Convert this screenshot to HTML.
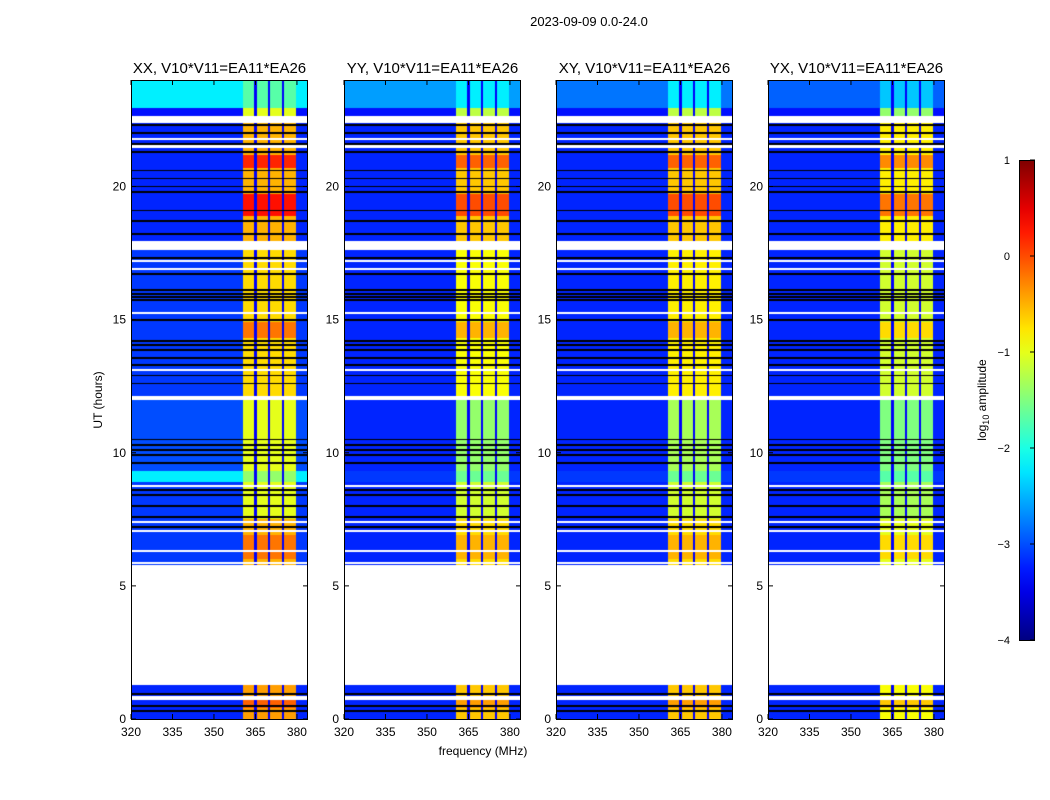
<!DOCTYPE html>
<html><head><meta charset="utf-8">
<style>
html,body{margin:0;padding:0;background:#fff;}
#wrap{position:relative;width:1050px;height:800px;overflow:hidden;font-family:"Liberation Sans","DejaVu Sans",sans-serif;}
canvas{position:absolute;}
svg{position:absolute;left:0;top:0;}
</style></head>
<body>
<div id="wrap">
<svg id="ov" width="1050" height="800"></svg>
</div>
<script>
// ---- data ----
const panelTitles = ["XX, V10*V11=EA11*EA26","YY, V10*V11=EA11*EA26","XY, V10*V11=EA11*EA26","YX, V10*V11=EA11*EA26"];
const panelLeft = [131,344,556,768];
const xTicks = [320,335,350,365,380];
const yTicks = [0,5,10,15,20];
const cbTicks = [1,0,-1,-2,-3,-4];
// time segments (hours)
const segStart = [0.0, 5.8, 7.5, 8.9, 9.3, 12.15, 17.95, 22.65, 22.95];
const segEnd   = [1.35,7.5, 8.9, 9.3, 12.0,17.6, 22.4, 22.95, 24.0];
// background level per panel per segment (log10)
const bgXX = [-3.2,-3.1,-3.1,-2.2,-3.0,-3.1,-3.2,-3.3,-2.2];
const bgYY = [-3.2,-3.2,-3.2,-3.1,-3.2,-3.2,-3.2,-3.3,-2.6];
const bgXY = [-3.2,-3.2,-3.2,-3.1,-3.2,-3.2,-3.2,-3.3,-2.8];
const bgYX = [-3.2,-3.2,-3.2,-3.1,-3.2,-3.2,-3.2,-3.3,-2.9];
// band (360-380 MHz) level per panel per segment
const bandXX = [-0.4,-0.5,-1.0,-1.4,-1.0,-0.7,-0.5,-1.0,-1.7];
const bandYY = [-0.6,-0.7,-1.1,-1.6,-1.4,-0.9,-0.6,-1.2,-2.2];
const bandXY = [-0.6,-0.7,-1.1,-1.6,-1.3,-0.8,-0.6,-1.2,-2.2];
const bandYX = [-0.9,-1.0,-1.3,-1.7,-1.5,-1.1,-0.8,-1.4,-2.4];
// strong rows in band
const hotStart = [20.7, 18.9, 14.3, 6.0, 0.4];
const hotEnd   = [21.2, 19.7, 14.9, 6.9, 0.8];
const hotLevel = [0.2, 0.3, -0.2, -0.2, -0.1];
// flagged rows
const blackRows = [22.3,22.0,21.6,21.3,20.6,20.3,20.0,19.8,19.1,18.7,18.2,17.3,16.7,16.1,15.95,15.85,15.75,15.0,14.2,14.05,13.85,13.55,13.3,12.9,12.6,10.5,10.3,10.1,9.9,9.6,8.6,8.4,8.0,7.6,7.2,0.95,0.5,0.3];
const whiteRows = [21.8,21.5,17.2,16.9,15.25,13.1,8.75,7.4,7.05,6.3,5.85,1.3,0.82,0.76];
const bandLines = [365,370,375];
const bandLo = 360.5, bandHi = 379.5;

// ---- scales ----
const pW = 177, y0 = 719, pxPerHour = 26.625;
const fMin = 320, fMax = 384;
function xs(f, L){ return L + (f - fMin) / (fMax - fMin) * pW; }
function ys(h){ return y0 - h * pxPerHour; }
function cbY(v){ return 640 - (v + 4) * 96; }

function jet(v){ // v in [-4,1]
  let t = Math.max(0, Math.min(1, (v + 4) / 5));
  const r = Math.max(0, Math.min(1, 1.5 - Math.abs(4*t - 3)));
  const g = Math.max(0, Math.min(1, 1.5 - Math.abs(4*t - 2)));
  const b = Math.max(0, Math.min(1, 1.5 - Math.abs(4*t - 1)));
  return [Math.round(r*255), Math.round(g*255), Math.round(b*255)];
}

const wrap = document.getElementById('wrap');
const ov = document.getElementById('ov');
const NS = 'http://www.w3.org/2000/svg';
function sv(tag, attrs, text){ const e = document.createElementNS(NS, tag); for (const k in attrs) e.setAttribute(k, attrs[k]); if (text !== undefined) e.textContent = text; ov.appendChild(e); return e; }

const bgs = [bgXX,bgYY,bgXY,bgYX];
const bands = [bandXX,bandYY,bandXY,bandYX];
const plotTop = Math.round(ys(24));
const H = y0 - plotTop;

panelLeft.forEach((L, p) => {
  const cv = document.createElement('canvas');
  
  
  cv.width = pW; cv.height = H;
  cv.style.left = L + 'px'; cv.style.top = plotTop + 'px';
  wrap.insertBefore(cv, ov);
  const ctx = cv.getContext('2d');
  const img = ctx.createImageData(pW, H);
  for (let r = 0; r < H; r++) {
    const h = (y0 - (plotTop + r + 0.5)) / pxPerHour;
    let si = -1;
    for (let i = 0; i < segStart.length; i++) if (h >= segStart[i] && h < segEnd[i]) si = i;
    let black = blackRows.some(b => Math.abs(h - b) < 0.035);
    let white = whiteRows.some(w => Math.abs(h - w) < 0.04);
    let hot = null;
    for (let i = 0; i < hotStart.length; i++) if (h >= hotStart[i] && h < hotEnd[i]) hot = hotLevel[i];
    for (let c = 0; c < pW; c++) {
      const f = fMin + (c + 0.5) / pW * (fMax - fMin);
      let col;
      if (si < 0 || white) col = [255,255,255];
      else if (black) col = [0,0,0];
      else {
        let v = bgs[p][si];
        if (f >= bandLo && f <= bandHi) {
          v = bands[p][si];
          if (hot !== null) v = Math.max(v, hot - (p === 3 ? 0.5 : p > 0 ? 0.3 : 0));
          if (bandLines.some(b => Math.abs(f - b) < 0.4)) v = -3.4;
        }
        col = jet(v);
      }
      const k = (r * pW + c) * 4;
      img.data[k] = col[0]; img.data[k+1] = col[1]; img.data[k+2] = col[2]; img.data[k+3] = 255;
    }
  }
  ctx.putImageData(img, 0, 0);

  const fr = sv('rect', {x: L+0.5, y: plotTop+0.5, width: pW-1, height: H, fill: 'none', stroke: '#000', 'stroke-width': 1});
  
  
  const ttl = sv('text', {x: L + pW/2, y: 73, 'text-anchor': 'middle', 'font-size': 15}, panelTitles[p]);
  
  
  xTicks.forEach(v => {
    const x = xs(v, L);
    sv('line', {x1: x, x2: x, y1: y0, y2: y0-5, stroke: '#000'});
    sv('line', {x1: x, x2: x, y1: plotTop, y2: plotTop+5, stroke: '#000'});
    const tl = sv('text', {x: x, y: 736, 'text-anchor': 'middle', 'font-size': 12}, String(v));
    
    
  });
  yTicks.forEach(v => {
    const y = ys(v);
    sv('line', {x1: L, x2: L+5, y1: y, y2: y, stroke: '#000'});
    sv('line', {x1: L+pW, x2: L+pW-5, y1: y, y2: y, stroke: '#000'});
    const tl = sv('text', {x: L-5, y: y+4, 'text-anchor': 'end', 'font-size': 12}, String(v));
    
    
  });
});

// colorbar
const defs = sv('defs', {});
const lg = document.createElementNS(NS, 'linearGradient');
lg.setAttribute('id', 'cbg'); lg.setAttribute('x1', '0'); lg.setAttribute('x2', '0'); lg.setAttribute('y1', '1'); lg.setAttribute('y2', '0');
for (let i = 0; i <= 20; i++) {
  const st = document.createElementNS(NS, 'stop');
  const c = jet(-4 + i * 0.25);
  st.setAttribute('offset', (i/20));
  st.setAttribute('stop-color', 'rgb(' + c.join(',') + ')');
  lg.appendChild(st);
}
defs.appendChild(lg);
const cb = sv('rect', {x: 1019.5, y: 160.5, width: 15, height: 480, fill: 'url(#cbg)', stroke: '#000'});


cbTicks.forEach(v => {
  const y = cbY(v);
  sv('line', {x1: 1030, x2: 1035, y1: y, y2: y, stroke: '#000'});
  const tl = sv('text', {x: 1010, y: y+4, 'text-anchor': 'end', 'font-size': 11}, v < 0 ? '\u2212' + Math.abs(v) : String(v));
  
  
});
</script>
<svg width="1050" height="800" style="position:absolute;left:0;top:0;pointer-events:none">
<text x="589" y="26" text-anchor="middle" font-size="13" font-family="Liberation Sans, sans-serif">2023-09-09 0.0-24.0</text>
<text x="483" y="755" text-anchor="middle" font-size="12" font-family="Liberation Sans, sans-serif">frequency (MHz)</text>
<text transform="translate(102,400) rotate(-90)" text-anchor="middle" font-size="12" font-family="Liberation Sans, sans-serif">UT (hours)</text>
<text transform="translate(986,400) rotate(-90)" text-anchor="middle" font-size="12" font-family="Liberation Sans, sans-serif">log<tspan font-size="9" dy="3">10</tspan><tspan dy="-3"> amplitude</tspan></text>
</svg>
</body></html>
